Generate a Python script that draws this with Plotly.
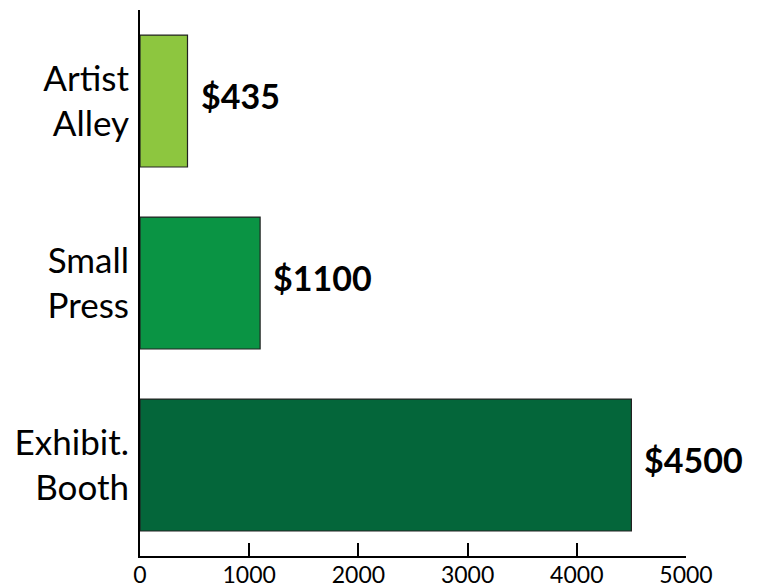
import plotly.graph_objects as go

categories = ["Exhibit.<br>Booth", "Small<br>Press", "Artist<br>Alley"]
values = [4500, 1100, 435]
labels = ["$4500", "$1100", "$435"]
colors = ["#04663A", "#0A9444", "#8DC63F"]
tick_vals = [0, 1000, 2000, 3000, 4000, 5000]

fig = go.Figure(go.Bar(
    y=categories, x=values, orientation="h",
    marker=dict(color=colors, line=dict(color="#222", width=1.2)),
    width=0.725,
))
for c, v, t in zip(categories, values, labels):
    fig.add_annotation(x=v, y=c, text=t, showarrow=False, xanchor="left", xshift=11, yshift=6,
                       font=dict(family="Lato", size=34, color="black", weight="bold"))
fig.update_layout(
    width=764, height=588,
    margin=dict(l=132, r=86, t=2, b=40, autoexpand=False),
    plot_bgcolor="white", paper_bgcolor="white",
    showlegend=False,
    xaxis=dict(range=[0, 5000], tickvals=tick_vals, showgrid=False, zeroline=False,
               showline=True, linecolor="black", linewidth=2, automargin=False,
               ticks="inside", ticklen=13, tickwidth=2, tickcolor="black",
               ticklabelstandoff=-3,
               tickfont=dict(family="Lato", size=23, color="black")),
    yaxis=dict(showgrid=False, zeroline=False, showline=True, linecolor="black", linewidth=2,
               ticks="", ticklabelstandoff=2, automargin=False,
               tickfont=dict(family="Lato", size=35, color="black")),
)
fig.write_html("out.html")
